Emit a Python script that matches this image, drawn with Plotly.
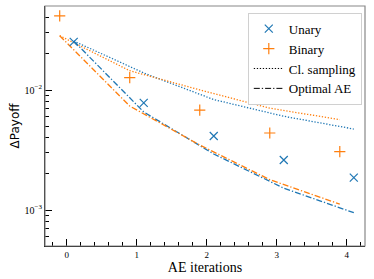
import plotly.graph_objects as go

# Data
iters = [0, 1, 2, 3, 4]
unary_x = [0.1, 1.1, 2.1, 3.1, 4.1]
binary_x = [-0.1, 0.9, 1.9, 2.9, 3.9]
unary_payoff = [0.0252, 0.0078, 0.00414, 0.00261, 0.00186]
binary_payoff = [0.0414, 0.01266, 0.0068, 0.00438, 0.00306]
unary_cl = [0.0256, 0.01386, 0.00832, 0.00604, 0.00473]
binary_cl = [0.02835, 0.01448, 0.01002, 0.00706, 0.00566]
unary_ae = [0.0256, 0.00656, 0.00293, 0.00152, 0.00095]
binary_ae = [0.02835, 0.00735, 0.00348, 0.00179, 0.00112]

BLUE = "#1f77b4"
ORANGE = "#ff7f0e"
SERIF = "Liberation Serif, DejaVu Serif, serif"
DOT = "1.3px,1.7px"
DASHDOT = "6px,2px,1.3px,2px"

fig = go.Figure()
fig.add_trace(go.Scatter(x=unary_x, y=unary_cl, mode="lines", line=dict(color=BLUE, dash=DOT, width=1.3), showlegend=False))
fig.add_trace(go.Scatter(x=binary_x, y=binary_cl, mode="lines", line=dict(color=ORANGE, dash=DOT, width=1.3), showlegend=False))
fig.add_trace(go.Scatter(x=unary_x, y=unary_ae, mode="lines", line=dict(color=BLUE, dash=DASHDOT, width=1.3), showlegend=False))
fig.add_trace(go.Scatter(x=binary_x, y=binary_ae, mode="lines", line=dict(color=ORANGE, dash=DASHDOT, width=1.3), showlegend=False))
fig.add_trace(go.Scatter(x=unary_x, y=unary_payoff, mode="markers", name="Unary",
                         marker=dict(symbol="x-thin", size=8, line=dict(color=BLUE, width=1.2), color=BLUE)))
fig.add_trace(go.Scatter(x=binary_x, y=binary_payoff, mode="markers", name="Binary",
                         marker=dict(symbol="cross-thin", size=8, line=dict(color=ORANGE, width=1.2), color=ORANGE)))
fig.add_trace(go.Scatter(x=[None], y=[None], mode="lines", name="Cl. sampling", line=dict(color="black", dash=DOT, width=1)))
fig.add_trace(go.Scatter(x=[None], y=[None], mode="lines", name="Optimal AE", line=dict(color="black", dash=DASHDOT, width=1)))

fig.update_layout(
    width=374, height=279,
    margin=dict(l=45, r=9, t=6, b=33, autoexpand=False),
    paper_bgcolor="white", plot_bgcolor="white",
    font=dict(family=SERIF, color="black"),
    legend=dict(x=0.99, y=0.972, xanchor="right", yanchor="top",
                font=dict(family=SERIF, size=13), bgcolor="white",
                bordercolor="#d0d0d0", borderwidth=1, tracegroupgap=0),
    shapes=[dict(type="rect", xref="paper", yref="paper", x0=0, y0=0, x1=1, y1=1,
                 line=dict(color="#888888", width=1.2), layer="above")],
)
fig.update_xaxes(
    range=[-0.31, 4.26], tickvals=iters, ticks="inside", ticklen=7, tickcolor="black",
    showline=True, linecolor="black", linewidth=1.2, showgrid=False, zeroline=False,
    tickfont=dict(family=SERIF, size=9), automargin=False,
    minor=dict(ticks="inside", ticklen=4, dtick=0.2, tick0=0, tickcolor="black", showgrid=False),
    title=dict(text="AE iterations", font=dict(family=SERIF, size=14), standoff=1),
)
fig.update_yaxes(
    type="log", range=[-3.3, -1.3], tickvals=[0.001, 0.01],
    ticktext=["10<sup>−3</sup>", "10<sup>−2</sup>"],
    ticks="inside", ticklen=7, tickcolor="black", automargin=False,
    showline=True, linecolor="black", linewidth=1.2, showgrid=False, zeroline=False,
    tickfont=dict(family=SERIF, size=10),
    minor=dict(ticks="inside", ticklen=4, dtick="D1", tickcolor="black", showgrid=False),
    title=dict(text="ΔPayoff", font=dict(family="DejaVu Sans", size=12), standoff=2),
)

fig.write_html("out.html", config={"displayModeBar": False},
               post_script="document.body.style.margin='0';")
